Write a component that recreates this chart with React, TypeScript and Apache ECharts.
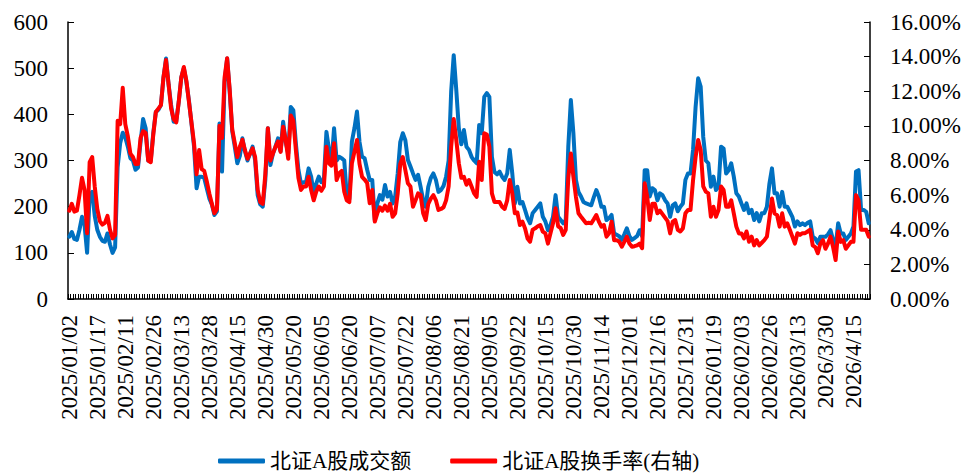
import React, { useEffect, useRef } from "react";
import * as echarts from "echarts";

// Trading-day calendar (weekdays minus exchange holidays)
const startDate = "2025-01-02";
const endDate = "2026-04-23";
const holidays = [
  "2025-01-01", "2025-01-28", "2025-01-29", "2025-01-30", "2025-01-31", "2025-02-03", "2025-02-04",
  "2025-04-04", "2025-05-01", "2025-05-02", "2025-05-05", "2025-06-02",
  "2025-10-01", "2025-10-02", "2025-10-03", "2025-10-06", "2025-10-07", "2025-10-08",
  "2026-01-01", "2026-01-02", "2026-02-16", "2026-02-17", "2026-02-18", "2026-02-19", "2026-02-20", "2026-02-23",
  "2026-04-06",
];
const unpaddedFrom = "2026-03-16";

// 北证A股成交额 (亿元)
const turnoverAmount = [
  135, 145, 130, 128, 150, 178, 160, 100, 225, 232,
  180, 150, 135, 126, 124, 142, 118, 100, 112, 286,
  338, 360, 350, 330, 305, 300, 280, 285, 340, 390,
  370, 300, 300, 360, 405, 410, 420, 480, 521, 465,
  420, 384, 384, 427, 480, 500, 470, 430, 380, 330,
  240, 265, 265, 262, 240, 218, 205, 182, 190, 380,
  276, 470, 521, 450, 364, 330, 294, 310, 348, 320,
  300, 315, 330, 300, 225, 205, 200, 258, 370, 290,
  315, 330, 348, 320, 384, 340, 315, 416, 409, 337,
  280, 250, 253, 253, 283, 265, 229, 250, 265, 253,
  258, 362, 324, 294, 370, 300, 308, 305, 300, 222,
  217, 341, 370, 406, 340, 308, 305, 280, 258, 258,
  171, 207, 225, 215, 247, 222, 232, 207, 222, 272,
  340, 359, 344, 301, 287, 272, 258, 269, 243, 214,
  200, 243, 262, 272, 258, 232, 236, 245, 265, 300,
  450, 528, 453, 370, 335, 366, 330, 323, 308, 300,
  294, 377, 359, 438, 446, 438, 308, 275, 270, 276,
  265, 258, 272, 323, 272, 207, 243, 207, 210, 193,
  175, 164, 186, 193, 200, 207, 178, 168, 149, 160,
  178, 225, 178, 171, 164, 171, 330, 431, 359, 258,
  232, 222, 210, 207, 205, 203, 220, 236, 222, 200,
  200, 171, 175, 182, 142, 139, 136, 128, 140, 153,
  136, 128, 132, 136, 149, 136, 279, 279, 222, 240,
  236, 214, 229, 225, 214, 207, 178, 203, 207, 190,
  200, 207, 258, 272, 272, 323, 416, 478, 460, 351,
  300, 294, 243, 265, 236, 243, 330, 326, 272, 279,
  294, 265, 229, 222, 207, 193, 207, 186, 193, 171,
  186, 168, 186, 186, 200, 250, 283, 229, 229, 200,
  232, 200, 200, 189, 178, 157, 168, 160, 164, 160,
  165, 168, 135, 131, 121, 135, 135, 135, 140, 149,
  128, 114, 164, 142, 142, 128, 135, 142, 157, 276,
  279, 193, 193, 189, 164,
];

// 北证A股换手率 (%)
const turnoverRate = [
  5.1, 5.5, 5.05, 5.1, 6.0, 7.0, 6.3, 3.8, 7.9, 8.2,
  6.5, 5.2, 4.5, 4.3, 4.4, 4.8, 4.0, 3.5, 3.7, 10.3,
  10.1, 12.2, 10.1, 9.4, 8.4, 8.2, 7.8, 7.8, 9.3, 9.7,
  9.6, 8.0, 7.9, 9.5, 10.8, 11.0, 11.2, 12.8, 13.8, 12.4,
  11.0, 10.4, 10.2, 11.4, 12.8, 13.4, 12.6, 11.4, 10.2, 9.0,
  7.2, 8.6, 7.5, 7.4, 6.8, 6.1, 5.5, 4.95, 5.2, 10.0,
  9.3, 12.8, 13.9, 12.1, 9.8, 9.0, 8.2, 8.8, 9.2, 8.6,
  8.1, 8.4, 8.7, 8.2, 6.3, 5.6, 5.5, 7.2, 9.86, 8.0,
  8.4, 8.8, 9.1, 8.5, 9.95, 9.2, 8.1, 10.6, 10.3, 8.6,
  7.0, 6.3, 6.5, 6.5, 7.06, 6.3, 5.7, 6.2, 6.5, 6.25,
  6.5, 8.8, 7.84, 7.7, 9.0, 6.87, 7.26, 7.4, 6.2, 5.7,
  5.6, 7.84, 8.5, 9.18, 7.8, 7.06, 6.9, 6.7, 5.53, 6.3,
  4.47, 4.95, 5.3, 5.1, 5.4, 5.1, 5.5, 4.75, 4.95, 6.1,
  7.8, 8.2, 7.45, 6.68, 6.5, 5.33, 5.7, 6.1, 6.0, 4.95,
  4.56, 5.5, 5.8, 6.0, 5.7, 5.14, 5.2, 5.3, 5.7, 6.5,
  8.8, 10.4, 9.18, 7.84, 7.0, 7.06, 6.6, 6.87, 6.5, 6.1,
  5.9, 7.93, 6.87, 9.57, 9.5, 8.8, 6.1, 5.6, 5.6, 5.6,
  5.33, 5.2, 5.7, 6.87, 6.1, 4.95, 5.0, 4.27, 4.47, 4.08,
  3.5, 3.31, 4.0, 4.08, 4.2, 4.27, 3.89, 3.79, 3.2, 3.8,
  4.37, 5.24, 4.2, 4.1, 3.7, 4.0, 7.0, 8.4, 7.06, 5.9,
  4.95, 4.75, 4.56, 4.37, 4.4, 4.37, 4.6, 4.85, 4.47, 4.18,
  4.27, 3.6, 3.8, 4.47, 3.4, 3.4, 3.31, 3.02, 3.3, 3.6,
  3.2, 3.02, 3.05, 3.1, 3.2, 2.93, 6.68, 5.9, 4.56, 5.5,
  5.5, 4.95, 5.1, 4.9, 4.7, 4.5, 3.79, 4.47, 4.56, 4.0,
  3.9, 4.08, 4.95, 5.14, 5.14, 6.87, 8.2, 9.18, 8.6, 6.5,
  6.2, 6.1, 4.75, 5.33, 4.75, 5.14, 6.5, 6.3, 5.33, 5.33,
  5.7, 4.95, 4.18, 3.79, 3.79, 3.5, 3.9, 3.31, 3.6, 3.1,
  3.4, 3.1, 3.25, 3.4, 3.6, 4.66, 5.8, 4.95, 4.85, 4.18,
  4.95, 4.18, 4.37, 4.0, 3.6, 3.2, 3.8, 3.7, 3.8, 3.8,
  3.9, 4.0, 3.1, 3.0, 2.64, 3.2, 3.4, 2.9, 3.2, 3.6,
  3.0, 2.25, 3.9, 3.3, 3.4, 2.9, 3.1, 3.3, 3.3, 6.0,
  5.7, 4.0, 4.0, 4.0, 3.6,
];

const seriesNames = ["北证A股成交额", "北证A股换手率(右轴)"];
const leftTicks = { min: 0, max: 600, interval: 100 };
const rightTicks = { min: 0, max: 16, interval: 2 };

function buildDates(): string[] {
  const out: string[] = [];
  const hol = new Set(holidays);
  const [sy, sm, sd] = startDate.split("-").map(Number);
  const [ey, em, ed] = endDate.split("-").map(Number);
  let t = Date.UTC(sy, sm - 1, sd);
  const end = Date.UTC(ey, em - 1, ed);
  while (t <= end) {
    const d = new Date(t);
    const wd = d.getUTCDay();
    const y = d.getUTCFullYear();
    const m = d.getUTCMonth() + 1;
    const day = d.getUTCDate();
    const iso = `${y}-${String(m).padStart(2, "0")}-${String(day).padStart(2, "0")}`;
    if (wd !== 0 && wd !== 6 && !hol.has(iso)) {
      if (iso >= unpaddedFrom) out.push(`${y}/${m}/${day}`);
      else out.push(`${y}/${String(m).padStart(2, "0")}/${String(day).padStart(2, "0")}`);
    }
    t += 86400000;
  }
  return out;
}

const serif = "'Times New Roman', 'Liberation Serif', serif";
const legendFont = "'Times New Roman', 'Liberation Serif', 'Noto Sans CJK SC', serif";

export default function App() {
  const ref = useRef<HTMLDivElement>(null);
  useEffect(() => {
    if (!ref.current) return;
    const chart = echarts.init(ref.current, undefined, { renderer: "svg" });
    const dates = buildDates().slice(0, turnoverAmount.length);
    const axisCommon = {
      axisLine: { show: true, lineStyle: { color: "#000", width: 1.5 } },
      axisTick: { show: true, inside: true, length: 6, lineStyle: { color: "#000", width: 1 } },
      splitLine: { show: false },
    };
    chart.setOption({
      animation: false,
      backgroundColor: "#fff",
      grid: { left: 68, right: 93, top: 22, bottom: 174, outerBoundsMode: "none", containLabel: false },
      legend: {
        data: seriesNames,
        left: 218,
        top: 449,
        padding: 0,
        icon: "roundRect",
        itemWidth: 47,
        itemHeight: 5,
        itemGap: 39,
        textStyle: { fontSize: 21, lineHeight: 24, color: "#000", fontFamily: legendFont },
      },
      xAxis: {
        type: "category",
        data: dates,
        boundaryGap: true,
        axisLine: { show: true, lineStyle: { color: "#000", width: 1.5 } },
        axisTick: { show: true, interval: 0, inside: true, length: 5, lineStyle: { color: "#000", width: 1 } },
        axisLabel: { interval: 10, rotate: 90, fontSize: 23, color: "#000", fontFamily: serif, margin: 16 },
        splitLine: { show: false },
      },
      yAxis: [
        {
          type: "value",
          ...leftTicks,
          ...axisCommon,
          axisLabel: { fontSize: 23, color: "#000", fontFamily: serif, margin: 20 },
        },
        {
          type: "value",
          position: "right",
          ...rightTicks,
          ...axisCommon,
          axisLabel: {
            fontSize: 23,
            color: "#000",
            fontFamily: serif,
            margin: 20,
            formatter: (v: number) => `${v.toFixed(2)}%`,
          },
        },
      ],
      series: [
        {
          name: seriesNames[0],
          type: "line",
          yAxisIndex: 0,
          data: turnoverAmount,
          showSymbol: false,
          symbol: "none",
          lineStyle: { color: "#0070C0", width: 4, join: "round", cap: "round" },
          itemStyle: { color: "#0070C0" },
        },
        {
          name: seriesNames[1],
          type: "line",
          yAxisIndex: 1,
          data: turnoverRate,
          showSymbol: false,
          symbol: "none",
          lineStyle: { color: "#FF0000", width: 4, join: "round", cap: "round" },
          itemStyle: { color: "#FF0000" },
        },
      ],
    });
    return () => chart.dispose();
  }, []);
  return (
    <div
      ref={ref}
      style={{ position: "fixed", left: 0, top: 0, width: 963, height: 473, background: "#fff" }}
    />
  );
}
